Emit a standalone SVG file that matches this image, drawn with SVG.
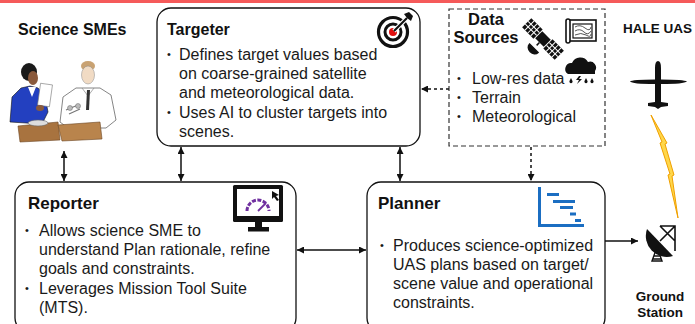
<svg xmlns="http://www.w3.org/2000/svg" width="695" height="324" viewBox="0 0 695 324">
  <style>
    .box { fill: #fff; stroke: #111; stroke-width: 1.3; }
    .dbox { fill: #fff; stroke: #333; stroke-width: 1.2; stroke-dasharray: 5 3; }
    .ttl { font-family: "Liberation Sans", Arial, Helvetica, sans-serif; font-weight: bold; fill: #111; }
    .txt { font-family: "Liberation Sans", Arial, Helvetica, sans-serif; font-size: 16px; fill: #1a1a1a; }
    .bul { font-family: "Liberation Sans", Arial, Helvetica, sans-serif; font-size: 11px; fill: #1a1a1a; }
    .conn { stroke: #111; stroke-width: 1.5; fill: none; }
    .dash { stroke: #111; stroke-width: 1.5; fill: none; stroke-dasharray: 3 3; }
  </style>
  <defs>
    <marker id="ah" viewBox="0 0 10 10" refX="10" refY="5" markerWidth="8" markerHeight="7" markerUnits="userSpaceOnUse" orient="auto-start-reverse">
      <path d="M0,0 L10,5 L0,10 z" fill="#111"/>
    </marker>
  </defs>

  <!-- top accent bar -->
  <rect x="0" y="0" width="695" height="3" fill="#f55a5a"/>

  <!-- Science SMEs -->
  <g id="science-smes">
    <text class="ttl" x="18" y="35" font-size="16">Science SMEs</text>
    <!-- woman -->
    <ellipse cx="29" cy="72" rx="8" ry="9" fill="#1a1a1a"/>
    <ellipse cx="33" cy="78" rx="5" ry="7" fill="#8a5a3c"/>
    <path d="M10,122 L12,97 L21,88 L30,86 L38,88 L45,96 L48,112 L42,124 Z" fill="#2340c0" stroke="#111" stroke-width="0.6"/>
    <path d="M28,87 L32,97 L36,87 Z" fill="#fff"/>
    <rect x="39" y="84" width="12" height="22" fill="#fff" stroke="#777" stroke-width="0.6" transform="rotate(8 45 95)"/>
    <ellipse cx="40" cy="108" rx="4" ry="3" fill="#8a5a3c"/>
    <!-- man -->
    <ellipse cx="88" cy="66" rx="7" ry="5" fill="#c9a272"/>
    <ellipse cx="88" cy="75" rx="6.5" ry="9" fill="#f1dbc4" stroke="#888" stroke-width="0.5"/>
    <path d="M60,122 L63,97 L76,88 L100,88 L111,95 L116,120 L106,128 L68,128 Z" fill="#fff" stroke="#666" stroke-width="0.8"/>
    <path d="M82,88 L88,96 L94,88" fill="none" stroke="#888" stroke-width="0.7"/>
    <path d="M87,90 L90,90 L89,110 L86,110 Z" fill="#333"/>
    <path d="M66,110 L78,105 M69,114 L80,109" stroke="#777" stroke-width="1.2"/>
    <circle cx="70" cy="108" r="2.5" fill="#bbb" stroke="#666" stroke-width="0.5"/>
    <circle cx="78" cy="106" r="2.5" fill="#bbb" stroke="#666" stroke-width="0.5"/>
    <!-- podiums -->
    <path d="M18,126 L58,122 L60,140 L20,142 Z" fill="#a8733f" stroke="#6b4522" stroke-width="0.6"/>
    <path d="M58,125 L100,122 L102,139 L62,141 Z" fill="#b9844c" stroke="#6b4522" stroke-width="0.6"/>
    <ellipse cx="38" cy="123" rx="10" ry="3" fill="#ddd" stroke="#666" stroke-width="0.6"/>
  </g>

  <!-- Targeter -->
  <g id="targeter">
    <rect class="box" x="157" y="8" width="263" height="138" rx="14"/>
    <text class="ttl" x="167" y="35" font-size="16">Targeter</text>
    <text class="bul" x="167" y="58">•</text>
    <text class="txt" x="179" y="60">Defines target values based</text>
    <text class="txt" x="179" y="79">on coarse-grained satellite</text>
    <text class="txt" x="179" y="98">and meteorological data.</text>
    <text class="bul" x="167" y="116">•</text>
    <text class="txt" x="179" y="118">Uses AI to cluster targets into</text>
    <text class="txt" x="179" y="137">scenes.</text>
    <!-- target icon -->
    <circle cx="393" cy="32" r="14.5" fill="#fff" stroke="#111" stroke-width="3.2"/>
    <circle cx="393" cy="32" r="8" fill="#fff" stroke="#111" stroke-width="3"/>
    <circle cx="393" cy="32" r="4" fill="#e01010"/>
    <line x1="394" y1="31" x2="407" y2="18" stroke="#fff" stroke-width="4.5"/>
    <line x1="394" y1="31" x2="407" y2="18" stroke="#111" stroke-width="2.2"/>
    <path d="M404,14 L407,18 L411,21 L413,16 L409,12 Z" fill="#111"/>
  </g>

  <!-- Data Sources -->
  <g id="data-sources">
    <rect class="dbox" x="449" y="9" width="156" height="137"/>
    <text class="ttl" x="486" y="25" font-size="16.5" text-anchor="middle">Data</text>
    <text class="ttl" x="486" y="43" font-size="16.5" text-anchor="middle">Sources</text>
    <!-- satellite -->
    <g transform="translate(543 39) rotate(45)">
      <rect x="-23" y="-6.5" width="16" height="13" fill="#111"/>
      <path d="M-19,-6.5 V6.5 M-15,-6.5 V6.5 M-11,-6.5 V6.5 M-23,-2 H-7 M-23,2 H-7" stroke="#fff" stroke-width="1"/>
      <rect x="-6" y="-5" width="12" height="10" fill="#111"/>
      <rect x="7" y="-6.5" width="16" height="13" fill="#111"/>
      <path d="M11,-6.5 V6.5 M15,-6.5 V6.5 M19,-6.5 V6.5 M7,-2 H23 M7,2 H23" stroke="#fff" stroke-width="1"/>
      <path d="M0,5 V9 M-6,13 A6,5 0 0,0 6,13 Z" stroke="#111" stroke-width="1.5" fill="#111"/>
    </g>
    <!-- map scroll -->
    <rect x="569" y="20" width="27" height="21" fill="#fff" stroke="#111" stroke-width="1.6"/>
    <rect x="566" y="19" width="4" height="24" rx="2" fill="#fff" stroke="#111" stroke-width="1.6"/>
    <rect x="573" y="24" width="19" height="14" fill="#fff" stroke="#111" stroke-width="1.2"/>
    <path d="M575,27 Q580,24 585,28 T591,27 M575,31 Q580,28 584,32 T591,31 M575,35 Q581,32 586,35 T591,34" stroke="#444" stroke-width="0.9" fill="none"/>
    <!-- rain cloud -->
    <path d="M568,74 A6,6 0 0,1 572,63 A9,9 0 0,1 588,62 A6,6 0 0,1 595,71 L595,74 Z" fill="#111"/>
    <path d="M571,78 l1.5,3 a1.6,1.6 0 1,1 -3,0 Z M586,78 l1.5,3 a1.6,1.6 0 1,1 -3,0 Z M592,78 l1.5,3 a1.6,1.6 0 1,1 -3,0 Z" fill="#111"/>
    <path d="M579,76 L576,80 L579,80 L577,84 L582,79 L579,79 L581,76 Z" fill="#111"/>
    <text class="bul" x="457" y="82">•</text>
    <text class="txt" x="472" y="84">Low-res data</text>
    <text class="bul" x="457" y="101">•</text>
    <text class="txt" x="472" y="103">Terrain</text>
    <text class="bul" x="457" y="120">•</text>
    <text class="txt" x="472" y="122">Meteorological</text>
  </g>

  <!-- HALE UAS -->
  <g id="hale-uas">
    <text class="ttl" x="623" y="33" font-size="13.5">HALE UAS</text>
    <path d="M630,81.5 Q632,79.5 655,79.5 L655,68 Q655,61 658,61 Q661,61 661,68 L661,79.5 Q684,79.5 687,81.5 Q684,84 661,84 L661,102 L668,103 L668,106 L661,107 L658,109 L655,107 L648,106 L648,103 L655,102 L655,84 Q632,84 630,81.5 Z" fill="#111"/>
  </g>

  <!-- radio link -->
  <g id="link">
    <path d="M651,115 L662,142 L660,143 L670,174 L668,175 L678,218 L672,176 L674,175 L665,144 L667,143 Z" fill="#ffd74a" stroke="#f0a000" stroke-width="1"/>
  </g>

  <!-- Ground Station -->
  <g id="ground-station">
    <path d="M647,229 A21,21 0 0,0 673,256 Z" fill="#111"/>
    <path d="M660,226 H675 V251 M660,226 L675,241 M675,226 L660,241" stroke="#111" stroke-width="1.6" fill="none"/>
    <path d="M652,261 L657,247 L662,261 Z M654,256 L660,256 M653,259 L661,259" stroke="#111" stroke-width="1.4" fill="none"/>
    <text class="ttl" x="660" y="301" font-size="13.5" text-anchor="middle">Ground</text>
    <text class="ttl" x="660" y="317" font-size="13.5" text-anchor="middle">Station</text>
  </g>

  <!-- Reporter -->
  <g id="reporter">
    <rect class="box" x="15" y="182" width="281" height="150" rx="14"/>
    <text class="ttl" x="28" y="209" font-size="17">Reporter</text>
    <text class="bul" x="25" y="234">•</text>
    <text class="txt" x="39" y="236">Allows science SME to</text>
    <text class="txt" x="39" y="255">understand Plan rationale, refine</text>
    <text class="txt" x="39" y="274">goals and constraints.</text>
    <text class="bul" x="25" y="292">•</text>
    <text class="txt" x="39" y="294">Leverages Mission Tool Suite</text>
    <text class="txt" x="39" y="313">(MTS).</text>
    <!-- monitor icon -->
    <rect x="233" y="185" width="50" height="37" rx="1.5" fill="#111"/>
    <rect x="237" y="189" width="42" height="27" fill="#fff"/>
    <rect x="255" y="221" width="7" height="7" fill="#111"/>
    <rect x="248" y="227" width="21" height="4.5" fill="#111"/>
    <path d="M247,211 A11,11 0 0,1 269,211" stroke="#7030a0" stroke-width="3" fill="none" stroke-dasharray="4 1.5"/>
    <line x1="258" y1="211" x2="266" y2="203" stroke="#7030a0" stroke-width="1.8"/>
    <path d="M272,191 L272,199 L274,197 L277,201 L279,200 L276,196 L279,195 Z" fill="#111"/>
  </g>

  <!-- Planner -->
  <g id="planner">
    <rect class="box" x="367" y="182" width="238" height="150" rx="14"/>
    <text class="ttl" x="378" y="209" font-size="17">Planner</text>
    <text class="bul" x="380" y="249">•</text>
    <text class="txt" x="393" y="251">Produces science-optimized</text>
    <text class="txt" x="393" y="270">UAS plans based on target/</text>
    <text class="txt" x="393" y="289">scene value and operational</text>
    <text class="txt" x="393" y="308">constraints.</text>
    <!-- schedule icon -->
    <path d="M539.5,187 V225.5 H584" stroke="#1b6ec2" stroke-width="3" fill="none"/>
    <g fill="#1b6ec2">
      <rect x="547" y="193" width="12" height="3"/>
      <rect x="553" y="200" width="22" height="3"/>
      <rect x="560" y="206" width="13" height="3"/>
      <rect x="570" y="212.5" width="6" height="3"/>
      <rect x="575" y="219" width="6" height="3"/>
    </g>
  </g>

  <!-- connectors -->
  <g id="connectors">
    <line class="conn" x1="64" y1="151" x2="64" y2="181" marker-start="url(#ah)" marker-end="url(#ah)"/>
    <line class="conn" x1="181" y1="147" x2="181" y2="181" marker-start="url(#ah)" marker-end="url(#ah)"/>
    <line class="conn" x1="400" y1="147" x2="400" y2="181" marker-start="url(#ah)" marker-end="url(#ah)"/>
    <line class="conn" x1="297" y1="250" x2="366" y2="250" marker-start="url(#ah)" marker-end="url(#ah)"/>
    <line class="conn" x1="605" y1="241" x2="638" y2="241" marker-end="url(#ah)"/>
    <line class="dash" x1="449" y1="89" x2="421" y2="89" marker-end="url(#ah)"/>
    <line class="dash" x1="531" y1="147" x2="531" y2="181" marker-end="url(#ah)"/>
  </g>
</svg>
